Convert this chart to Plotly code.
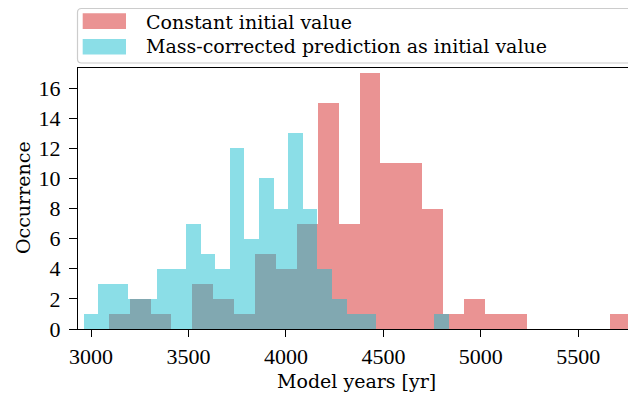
import numpy as np
import plotly.graph_objects as go

# ---- data ----
red_name = "Constant initial value"
cyan_name = "Mass-corrected prediction as initial value"

red_bin_start = 3091.0
red_bin_width = 107.2
red_counts = [1, 2, 1, 0, 3, 2, 1, 5, 4, 7, 15, 7, 17, 11, 11, 8, 1, 2, 1, 1, 0, 0, 0, 0, 1]

cyan_bin_start = 2962.5
cyan_bin_width = 74.95
cyan_counts = [1, 3, 3, 2, 2, 4, 4, 7, 5, 4, 12, 6, 10, 8, 13, 8, 4, 2, 1, 1, 0, 0, 0, 0, 1]

x_ticks = [3000, 3500, 4000, 4500, 5000, 5500]
y_ticks = [0, 2, 4, 6, 8, 10, 12, 14, 16]

RED = "rgba(214,39,40,0.5)"
CYAN = "rgba(23,190,207,0.5)"

red_centers = red_bin_start + red_bin_width * (np.arange(len(red_counts)) + 0.5)
cyan_centers = cyan_bin_start + cyan_bin_width * (np.arange(len(cyan_counts)) + 0.5)

fig = go.Figure()
fig.add_trace(go.Bar(x=red_centers, y=red_counts, width=red_bin_width, name=red_name,
                     marker=dict(color=RED, line=dict(width=0)), showlegend=False))
fig.add_trace(go.Bar(x=cyan_centers, y=cyan_counts, width=cyan_bin_width, name=cyan_name,
                     marker=dict(color=CYAN, line=dict(width=0)), showlegend=False))

W, H = 628, 396
L, R, T, B = 78, 0, 68, 67
pw, ph = W - L - R, H - T - B

def px(xp):
    return (xp - L) / pw

def py(yp):
    return (H - B - yp) / ph

tick_font = dict(family="Liberation Serif, Times New Roman, serif", size=22, color="black")
text_font = dict(family="DejaVu Serif, serif", size=19, color="black")

fig.update_layout(
    width=W, height=H,
    margin=dict(l=L, r=R, t=T, b=B, autoexpand=False),
    paper_bgcolor="white", plot_bgcolor="white",
    barmode="overlay", bargap=0,
    showlegend=False,
)
fig.update_xaxes(
    range=[2933, 5755], tickvals=x_ticks, ticktext=[str(v) for v in x_ticks],
    showgrid=False, zeroline=False, showline=True, linecolor="black", linewidth=1.3,
    mirror=True, ticks="outside", ticklen=7, tickwidth=1.3, tickcolor="black",
    tickfont=tick_font, automargin=False,
)
fig.update_yaxes(
    range=[0, 17.33], tickvals=y_ticks, ticktext=[str(v) for v in y_ticks],
    showgrid=False, zeroline=False, showline=True, linecolor="black", linewidth=1.3,
    mirror=False, ticks="outside", ticklen=8, tickwidth=1.3, tickcolor="black",
    tickfont=tick_font, automargin=False, ticklabelstandoff=4,
)

# axis titles as annotations
fig.add_annotation(text="Model years [yr]", xref="paper", yref="paper", x=px(356), y=py(381),
                   xanchor="center", yanchor="middle", showarrow=False, font=text_font)
fig.add_annotation(text="Occurrence", xref="paper", yref="paper", x=px(23), y=py(198),
                   xanchor="center", yanchor="middle", showarrow=False, font=text_font,
                   textangle=-90)

# ---- legend drawn as frame + swatches + text ----
x0, x1 = px(77.5), px(660)
yT, yB = py(8.5), py(63)
rx, ry = 4 / pw, 4 / ph
path = (f"M {x0+rx},{yT} L {x1},{yT} L {x1},{yB} L {x0+rx},{yB} "
        f"Q {x0},{yB} {x0},{yB+ry} L {x0},{yT-ry} Q {x0},{yT} {x0+rx},{yT} Z")
fig.add_shape(type="path", path=path, xref="paper", yref="paper",
              line=dict(color="#cccccc", width=1.2), fillcolor="white")
for color, label, top, bot, cy in [(RED, red_name, 13.3, 29, 21.5), (CYAN, cyan_name, 39, 54.5, 46.5)]:
    fig.add_shape(type="rect", xref="paper", yref="paper",
                  x0=px(82.7), x1=px(126), y0=py(bot), y1=py(top),
                  line=dict(width=0), fillcolor=color)
    fig.add_annotation(text=label, xref="paper", yref="paper", x=px(144), y=py(cy),
                       xanchor="left", yanchor="middle", showarrow=False, font=text_font)

fig.write_html("out.html", config={"displayModeBar": False},
               post_script="document.body.style.margin='0px';document.body.style.padding='0px';")
